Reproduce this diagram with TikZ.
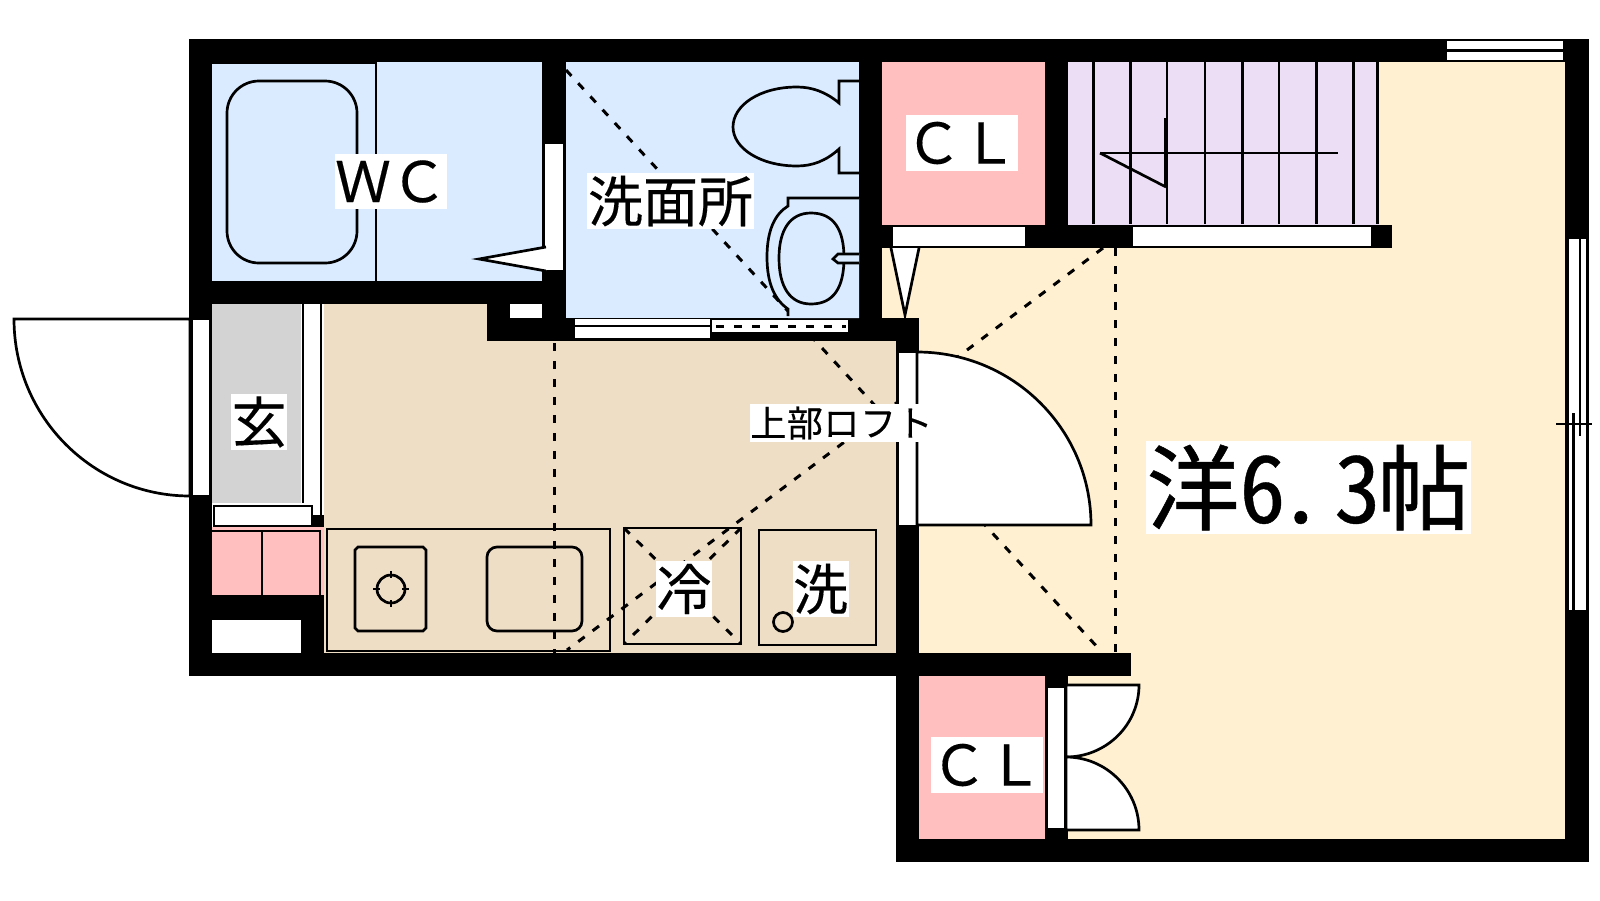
\documentclass[tikz,border=0pt]{standalone}
\usepackage{fontspec}
\setmainfont{Noto Sans CJK JP}[FakeBold=0.25]
\newfontfamily\bigfont{Noto Sans CJK JP}[FakeBold=0.6]
\newfontfamily\hwfont{Noto Sans CJK JP}[RawFeature={+hwid},FakeBold=0.4]
\definecolor{bluef}{HTML}{DBEBFF}
\definecolor{pinkf}{HTML}{FFBFBF}
\definecolor{purplef}{HTML}{ECDFF5}
\definecolor{creamf}{HTML}{FEF0D0}
\definecolor{floorf}{HTML}{EEDEC6}
\definecolor{grayf}{HTML}{D3D3D3}
\tikzset{
  wall/.style={fill=black,draw=none},
  ln/.style={draw=black,line width=1.35pt},
  thin ln/.style={draw=black,line width=1pt},
  dsh/.style={draw=black,line width=1.5pt,dash pattern=on 4pt off 5pt},
  lbl/.style={fill=white,inner sep=0pt,text=black,align=center},
}
\newcommand{\fs}[1]{\fontsize{#1}{#1}\selectfont}
\begin{document}
\begin{tikzpicture}[x=.5pt,y=-.5pt]
\useasboundingbox (0,0) rectangle (1600,900);
\fill[white] (0,0) rectangle (1600,900);
% floors
\fill[bluef] (212,62) rectangle (542,281);
\fill[bluef] (566,62) rectangle (859,318);
\fill[pinkf] (882,62) rectangle (1045,225);
\fill[purplef] (1068,62) rectangle (1379,225);
\fill[creamf] (1379,62) rectangle (1565,248);
\fill[creamf] (882,248) rectangle (1565,653);
\fill[creamf] (1068,653) rectangle (1565,839);
\fill[floorf] (324,304) rectangle (487,653);
\fill[floorf] (487,341) rectangle (896,653);
\fill[grayf] (212,304) rectangle (301,503);
\fill[pinkf] (212,527) rectangle (324,595);
\fill[pinkf] (919,676) rectangle (1045,839);
% overhead loft dashes
\draw[dsh] (566,70) -- (1100,650);
\draw[dsh] (1103,248) -- (567,650);
\draw[dsh] (1115,248) -- (1115,653);
\draw[dsh] (554,343) -- (554,653);
\draw[dsh] (624,528) -- (741,644);
\draw[dsh] (741,528) -- (624,644);
% walls
\fill[wall] (189,39) rectangle (1589,62);
\fill[wall] (189,39) rectangle (212,676);
\fill[wall] (1565,39) rectangle (1589,862);
\fill[wall] (212,281) rectangle (566,304);
\fill[wall] (542,39) rectangle (566,341);
\fill[wall] (487,304) rectangle (566,341);
\fill[wall] (487,318) rectangle (919,341);
\fill[wall] (859,39) rectangle (882,318);
\fill[wall] (1045,62) rectangle (1068,248);
\fill[wall] (859,225) rectangle (1392,248);
\fill[wall] (896,318) rectangle (919,676);
\fill[wall] (189,653) rectangle (1131,676);
\fill[wall] (896,653) rectangle (919,862);
\fill[wall] (896,839) rectangle (1589,862);
\fill[wall] (1045,676) rectangle (1068,839);
\fill[wall] (212,595) rectangle (324,653);
\fill[wall] (313,515) rectangle (324,527);
\fill[white] (510,304) rectangle (542,318);
\fill[white] (212,620) rectangle (301,653);
% bath
\draw[thin ln] (212,63) -- (376,63) -- (376,281);
\draw[ln,rounded corners=16pt] (227,81) rectangle (357,263);
% WC door
\fill[white] (544,144) rectangle (565,270);
\draw[thin ln] (544,144) -- (544,270);
\draw[thin ln] (563.5,144) -- (563.5,270);
\draw[ln,fill=white] (546,247) -- (479,259) -- (546,271);
% toilet
\draw[ln] (859,81) -- (839,81) -- (839,103) .. controls (826,92) and (812,87) .. (797,87) .. controls (760,87) and (733,105) .. (733,127) .. controls (733,148) and (760,166) .. (797,166) .. controls (812,166) and (826,161) .. (839,149) -- (839,173) -- (859,173);
% sink
\path[fill=bluef] (859,198) -- (788,198) -- (788,206) .. controls (775,214) and (767,230) .. (767,257) .. controls (767,284) and (775,300) .. (788,309) -- (788,318) -- (859,318) -- cycle;
\draw[ln] (859,198) -- (788,198) -- (788,206) .. controls (775,214) and (767,230) .. (767,257) .. controls (767,284) and (775,300) .. (788,309) -- (788,316);
\draw[ln] (811,213) .. controls (790,213) and (779,230) .. (779,258) .. controls (779,287) and (790,304) .. (811,304) .. controls (834,304) and (844,287) .. (844,258) .. controls (844,230) and (834,213) .. (811,213) -- cycle;
\draw[ln,fill=bluef] (859,254) -- (838,254) -- (833,259) -- (838,263) -- (859,263);
% washroom sliding door
\fill[white] (575,319) rectangle (710,338);
\fill[white] (710,320) rectangle (848,332);
\draw[ln] (575,326) -- (711,326);
\draw[thin ln] (711,319) -- (711,338);
\draw[dsh] (716,326) -- (846,326);
% closet door
\fill[white] (893,227) rectangle (1025,246);
\draw[ln,fill=white] (891,248) -- (905,315) -- (919,248);
% stairs
\foreach \sx in {1093.6,1130.4,1167,1205,1242.5,1279,1316.4,1353.6,1377.5}{
  \draw[ln] (\sx,62) -- (\sx,224);
}
\draw[ln] (1100,153) -- (1338,153);
\draw[ln] (1100,153) -- (1166,187);
\draw[draw=black,line width=1.9pt] (1165.5,118) -- (1165.5,187);
\fill[white] (1133,227) rectangle (1371,246);
% entrance
\draw[ln,fill=white] (14,319) -- (190,319) -- (190,496) arc[start angle=90,end angle=180,x radius=176,y radius=177] -- cycle;
\fill[white] (192,319) rectangle (210,496);
\draw[ln] (192,319) -- (192,496);
\draw[ln] (210,319) -- (210,496);
\draw[thin ln] (192,319) -- (210,319);
\draw[thin ln] (192,496) -- (210,496);
\fill[white] (304,304) rectangle (320,515);
\draw[ln] (303,304) -- (303,503);
\draw[ln] (321,304) -- (321,515);
\draw[ln,fill=white] (214,506) rectangle (312,526);
% shoe cupboard
\draw[ln] (212,531) -- (320,531) -- (320,595);
\draw[ln] (262,531) -- (262,595);
% kitchen
\draw[ln] (327,529) rectangle (610,651);
\draw[ln] (358,547) -- (423,547) -- (426,550) -- (426,628) -- (423,631) -- (358,631) -- (355,628) -- (355,550) -- cycle;
\draw[ln] (373,589) -- (409,589);
\draw[ln] (391,571) -- (391,607);
\fill[floorf] (380,578) rectangle (402,600);
\draw[ln] (391,589) circle[radius=14];
\draw[ln,rounded corners=5pt] (487,547) rectangle (582,631);
\draw[ln] (624,528) rectangle (741,644);
\draw[ln] (759,530) rectangle (876,645);
\draw[ln] (783,622) circle[radius=9.5];
% main door
\fill[white] (898,353) rectangle (917,525);
\draw[ln] (897.5,353) -- (897.5,525);
\draw[ln] (917,353) -- (917,525);
\draw[ln,fill=white] (917,352) arc[start angle=270,end angle=360,x radius=174,y radius=173] -- (917,525) -- cycle;
% closet double door
\fill[white] (1048,687) rectangle (1064,828);
\draw[thin ln] (1046.5,687) -- (1046.5,828);
\draw[thin ln] (1048,687) -- (1064,687);
\draw[ln,fill=white] (1066,685) -- (1139,685) arc[start angle=0,end angle=90,x radius=73,y radius=72] -- cycle;
\draw[ln,fill=white] (1139,830) -- (1066,830) -- (1066,757) arc[start angle=270,end angle=360,x radius=73,y radius=73] -- cycle;
\draw[ln] (1065.5,685) -- (1065.5,828);
% windows
\fill[white] (1447,39) rectangle (1563,62);
\draw[thin ln] (1447,40) -- (1563,40);
\draw[ln] (1447,50.5) -- (1563,50.5);
\draw[thin ln] (1447,60.5) -- (1563,60.5);
\fill[white] (1566,239) rectangle (1588,610);
\draw[ln] (1567.5,239) -- (1567.5,610);
\draw[ln] (1587,239) -- (1587,610);
\draw[ln] (1580,239) -- (1580,436);
\draw[ln] (1573.5,413) -- (1573.5,610);
\draw[ln] (1556,424) -- (1592,424);
% labels
\node[lbl,minimum width=56pt,minimum height=27.5pt] (wc) at (391,181.5) {\fs{28}ＷＣ};
\node[lbl,minimum width=55.5pt,minimum height=28pt] (cla) at (961.5,143) {\fs{28}ＣＬ};
\node[lbl,minimum width=56pt,minimum height=28pt] (clb) at (987,765) {\fs{28}ＣＬ};
\node[lbl,minimum width=83.5pt,minimum height=28pt] (sen) at (670.5,201) {\fs{27.5}洗面所};
\node[lbl,minimum width=28pt,minimum height=28pt] (gen) at (259,422) {\fs{27.5}玄};
\node[lbl,minimum width=28pt,minimum height=28pt] (rei) at (684,589) {\fs{27.5}冷};
\node[lbl,minimum width=28pt,minimum height=28pt] (sei) at (820.5,589) {\fs{27.5}洗};
\node[lbl,minimum width=91.5pt,minimum height=19pt] (loft) at (841.5,423) {\fs{18}\makebox[18.3pt]{上}\makebox[18.3pt]{部}\makebox[18.3pt]{ロ}\makebox[18.3pt]{フ}\makebox[18.3pt]{ト}};
\node[lbl,minimum width=162.5pt,minimum height=46.5pt] (room) at (1308.5,487.5) {\fs{46.5}{\bigfont 洋}\makebox[23pt]{\hwfont 6}\makebox[23pt][l]{\hwfont\hspace{-4pt}.}\makebox[23pt]{\hspace{3pt}\hwfont 3}{\bigfont 帖}};
\end{tikzpicture}
\end{document}
